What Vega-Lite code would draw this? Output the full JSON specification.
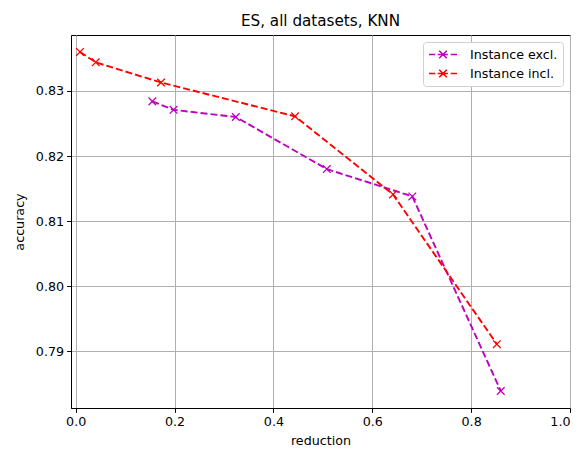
{
  "$schema": "https://vega.github.io/schema/vega-lite/v6.json",
  "autosize": {"type": "none"},
  "width": 499,
  "height": 373,
  "padding": {"left": 71, "top": 35, "right": 14, "bottom": 42},
  "background": "white",
  "title": {"text": "ES, all datasets, KNN", "fontSize": 15.2, "font": "DejaVu Sans", "fontWeight": "normal", "color": "black", "offset": 6, "anchor": "middle"},
  "config": {
    "font": "DejaVu Sans",
    "view": {"stroke": "black", "strokeWidth": 1},
    "axis": {
      "domainColor": "black", "domainWidth": 1,
      "tickColor": "black", "tickWidth": 1, "tickSize": 4.4,
      "labelFont": "DejaVu Sans", "labelFontSize": 12.7, "labelColor": "black", "labelPadding": 3,
      "titleFont": "DejaVu Sans", "titleFontSize": 12.7, "titleFontWeight": "normal", "titleColor": "black",
      "gridColor": "#b0b0b0", "gridWidth": 1, "gridOpacity": 1
    }
  },
  "data": {
    "values": [
      {"series": "Instance excl.", "i": 0, "reduction": 0.155, "accuracy": 0.8284},
      {"series": "Instance excl.", "i": 1, "reduction": 0.198, "accuracy": 0.8271},
      {"series": "Instance excl.", "i": 2, "reduction": 0.324, "accuracy": 0.8260},
      {"series": "Instance excl.", "i": 3, "reduction": 0.508, "accuracy": 0.8180},
      {"series": "Instance excl.", "i": 4, "reduction": 0.681, "accuracy": 0.8138},
      {"series": "Instance excl.", "i": 5, "reduction": 0.860, "accuracy": 0.7839},
      {"series": "Instance incl.", "i": 0, "reduction": 0.0087, "accuracy": 0.8360},
      {"series": "Instance incl.", "i": 1, "reduction": 0.0405, "accuracy": 0.8344},
      {"series": "Instance incl.", "i": 2, "reduction": 0.1726, "accuracy": 0.8313},
      {"series": "Instance incl.", "i": 3, "reduction": 0.4437, "accuracy": 0.8261},
      {"series": "Instance incl.", "i": 4, "reduction": 0.642, "accuracy": 0.8141},
      {"series": "Instance incl.", "i": 5, "reduction": 0.852, "accuracy": 0.7911}
    ]
  },
  "encoding": {
    "x": {
      "field": "reduction", "type": "quantitative",
      "scale": {"domain": [-0.0095, 1.0], "nice": false, "zero": false},
      "axis": {"title": "reduction", "values": [0, 0.2, 0.4, 0.6, 0.8, 1.0], "format": ".1f", "grid": true, "titlePadding": 6}
    },
    "y": {
      "field": "accuracy", "type": "quantitative",
      "scale": {"domain": [0.78129, 0.8386], "nice": false, "zero": false},
      "axis": {"title": "accuracy", "values": [0.79, 0.8, 0.81, 0.82, 0.83], "format": ".2f", "grid": true, "titlePadding": 9}
    },
    "color": {
      "field": "series", "type": "nominal",
      "scale": {"domain": ["Instance excl.", "Instance incl."], "range": ["#bf00bf", "#ff0000"]},
      "legend": {
        "title": null,
        "orient": "top-right",
        "offset": 7,
        "fillColor": "white",
        "strokeColor": "#d0d0d0",
        "cornerRadius": 3,
        "padding": 5,
        "symbolType": "M-1,0L-0.55,0M-0.38,0L0.35,0M0.55,0L1,0M-0.27,-0.27L0.27,0.27M-0.27,0.27L0.27,-0.27",
        "symbolSize": 784,
        "symbolStrokeWidth": 1.5,
        "symbolFillColor": "transparent",
        "clipHeight": 15,
        "rowPadding": 4,
        "labelOffset": 12,
        "labelFont": "DejaVu Sans",
        "labelFontSize": 12.7,
        "labelColor": "black"
      }
    }
  },
  "layer": [
    {
      "mark": {"type": "line", "strokeWidth": 1.9, "strokeDash": [7, 3]},
      "encoding": {"order": {"field": "i", "type": "quantitative"}}
    },
    {
      "mark": {"type": "point", "shape": "M-1,-1L1,1M-1,1L1,-1", "filled": false, "size": 58, "strokeWidth": 1.3, "opacity": 1}
    }
  ]
}
